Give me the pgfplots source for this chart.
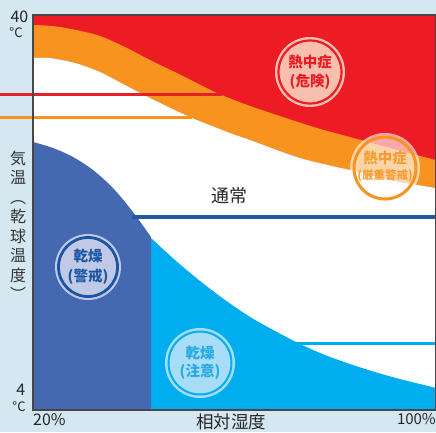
\documentclass[border=0pt]{standalone}
\usepackage{fontspec}
\setmainfont{Noto Sans CJK JP}
\usepackage{xcolor}
\usepackage{pgfplots}
\pgfplotsset{compat=1.18}
\usepgfplotslibrary{fillbetween}
\definecolor{bg}{HTML}{D5E7F1}
\definecolor{redc}{HTML}{ED1C24}
\definecolor{redl}{HTML}{E3212B}
\definecolor{orc}{HTML}{F7931E}
\definecolor{dbc}{HTML}{4469B1}
\definecolor{cyc}{HTML}{00AEEF}
\definecolor{blc}{HTML}{1E58A8}
\definecolor{dbtext}{HTML}{1A56A5}
\definecolor{cytext}{HTML}{27A9E1}
\definecolor{pinkfill}{HTML}{F8BFAE}
\definecolor{lavfill}{HTML}{C2C9E7}
\definecolor{cyfill}{HTML}{A8DDF8}
\pagecolor{bg}
\begin{document}
\begin{tikzpicture}
\begin{axis}[at={(33pt,22pt)}, anchor=south west, scale only axis,
  width=403pt, height=395pt, xmin=20, xmax=100, ymin=4, ymax=40,
  xtick=\empty, ytick=\empty, clip=false, axis on top,
  axis line style={draw=black!72, line width=1.2pt},
  axis background/.style={fill=redc}]
% boundaries
\addplot[name path=A, draw=none, smooth] coordinates {(20,39.09) (25.36,38.91) (32.70,38.18) (38.26,37.08) (43.23,35.90) (49.78,34.44) (56.53,32.89) (63.08,31.71) (69.63,30.70) (76.38,29.70) (82.93,28.88) (90.87,27.88) (100,26.78)};
\addplot[name path=B, draw=none, smooth] coordinates {(20,36.08) (23.37,36.08) (28.34,35.63) (33.30,34.81) (38.26,33.62) (43.23,32.44) (51.17,30.70) (59.11,29.25) (63.08,28.61) (73.00,26.97) (82.93,25.87) (90.87,24.96) (100,24.23)};
\addplot[name path=BOT, draw=none] coordinates {(20,4) (100,4)};
\addplot[orc] fill between[of=A and B];
\addplot[white] fill between[of=B and BOT];
% normal line
\addplot[blc, line width=4pt] coordinates {(39.6,21.59) (101,21.59)};
\addplot[cyc, line width=3pt] coordinates {(72.4,10.02) (101,10.02)};
% dry (caution)
\addplot[name path=C, draw=none, smooth] coordinates {(43.0,19.85) (48.19,17.67) (53.15,15.76) (58.11,14.03) (63.08,12.48) (68.04,11.20) (73.00,10.02) (77.96,9.01) (82.93,8.19) (87.89,7.46) (92.85,6.82) (100,6.01)};
\addplot[name path=BOTC, draw=none] coordinates {(43.0,4) (100,4)};
\addplot[cyc] fill between[of=C and BOTC];
% dry (warning)
\addplot[name path=D, draw=none, smooth] coordinates {(20,28.43) (23.97,27.88) (27.94,27.06) (31.91,25.87) (35.88,24.23) (39.85,22.04) (43.42,19.77)};
\addplot[name path=BOTD, draw=none] coordinates {(20,4) (43.42,4)};
\addplot[dbc] fill between[of=D and BOTD];
% reference lines extending left
\addplot[redl, line width=3pt] coordinates {(13.0,32.80) (57.6,32.80)};
\addplot[orc, line width=3pt] coordinates {(13.0,30.70) (51.6,30.70)};
\end{axis}
% badges
\fill[pinkfill] (310pt,360pt) circle (35pt);
\draw[redc, line width=2.2pt] (310pt,360pt) circle (31.5pt);
\node[text=redc, font=\fontsize{14.5}{17}\selectfont\bfseries] at (310pt,369.5pt) {熱中症};
\node[text=redc, font=\fontsize{14.5}{17}\selectfont\bfseries] at (310pt,350pt) {(危険)};

\fill[white, opacity=0.62] (385pt,264pt) circle (35pt);
\draw[orc, line width=3pt] (385pt,264pt) circle (31pt);
\node[text=orc, opacity=0.85, font=\fontsize{14.5}{17}\selectfont\bfseries] at (385pt,274pt) {熱中症};
\node[text=orc, opacity=0.85, font=\fontsize{11.5}{14}\selectfont\bfseries] at (385pt,256pt) {(厳重警戒)};

\fill[lavfill] (88pt,165pt) circle (33pt);
\draw[dbtext, line width=2.8pt] (88pt,165pt) circle (29.5pt);
\node[text=dbtext, font=\fontsize{14.5}{17}\selectfont\bfseries] at (88pt,175.5pt) {乾燥};
\node[text=dbtext, font=\fontsize{14.5}{17}\selectfont\bfseries] at (88pt,155pt) {(警戒)};

\fill[cyfill] (200pt,69pt) circle (35pt);
\draw[cyc, line width=2pt] (200pt,69pt) circle (31.5pt);
\node[text=cytext, font=\fontsize{14.5}{17}\selectfont\bfseries] at (200pt,79pt) {乾燥};
\node[text=cytext, font=\fontsize{14.5}{17}\selectfont\bfseries] at (200pt,60pt) {(注意)};

% texts
\node[text=black!85, font=\fontsize{18}{20}\selectfont] at (229pt,236pt) {通常};
\node[anchor=east, text=black!85, font=\fontsize{16}{18}\selectfont, inner sep=0pt] at (28.5pt,415pt) {40};
\node[text=black!85, font=\fontsize{13}{14}\selectfont, inner sep=0pt] at (16pt,399pt) {°C};
\node[anchor=east, text=black!85, font=\fontsize{16}{18}\selectfont, inner sep=0pt] at (25.5pt,42pt) {4};
\node[text=black!85, font=\fontsize{13}{14}\selectfont, inner sep=0pt] at (19pt,25pt) {°C};
\node[anchor=west, text=black!85, font=\fontsize{16}{18}\selectfont, inner sep=0pt] at (33pt,12pt) {20\%};
\node[anchor=east, text=black!85, font=\fontsize{15}{18}\selectfont, inner sep=0pt] at (436pt,13pt) {100\%};
\node[text=black!85, font=\fontsize{17.5}{20}\selectfont, inner sep=0pt] at (231pt,10pt) {相対湿度};
\node[align=center, text=black!80, font=\fontsize{16}{19.5}\selectfont, inner sep=0pt] at (18pt,206pt) {気\\温\\︵\\乾\\球\\温\\度\\︶};
\pgfresetboundingbox
\path[use as bounding box] (0,0) rectangle (436pt,432pt);
\end{tikzpicture}
\end{document}
